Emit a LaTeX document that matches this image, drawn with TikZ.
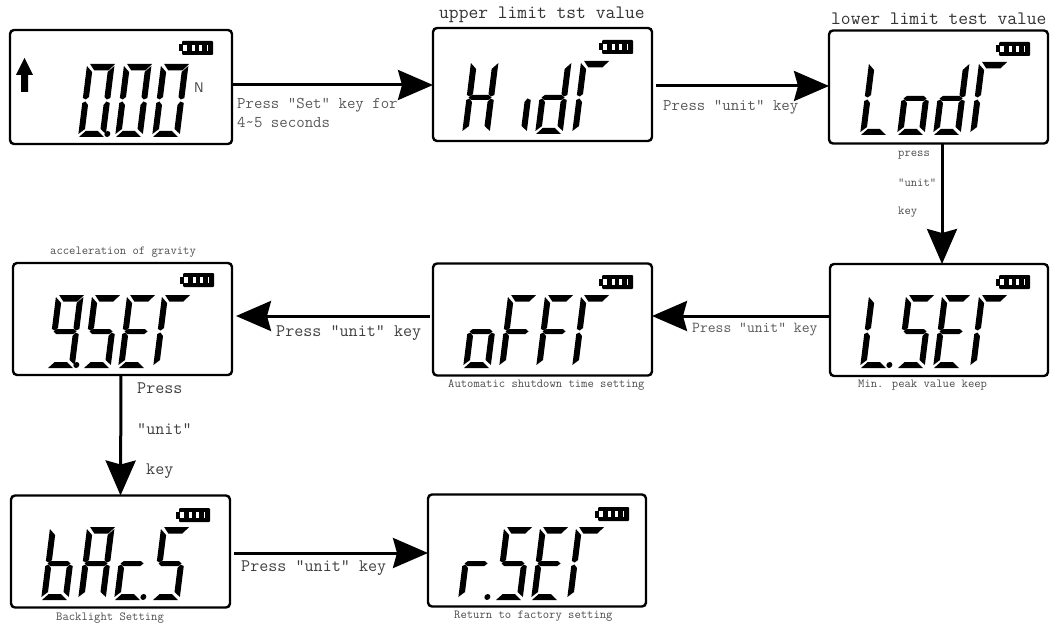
\documentclass[tikz,border=0pt]{standalone}
\usetikzlibrary{arrows.meta}
\tikzset{
	lcd/.style={draw, line width=2.4pt, rounded corners=4pt, outer sep=0pt, inner sep=0pt, minimum width=218pt, minimum height=112pt},
	flow/.style={line width=3pt, -{Stealth[length=35pt,width=30pt,inset=4pt]}},
	big/.style={font=\fontsize{19}{19}\selectfont\ttfamily, text=black!80, inner sep=0pt, anchor=west},
	mid/.style={font=\fontsize{17.6}{21}\selectfont\ttfamily, text=black!75, inner sep=0pt, anchor=west},
	midb/.style={font=\fontsize{16.4}{19}\selectfont\ttfamily, text=black!65, inner sep=0pt, anchor=west},
	small/.style={font=\fontsize{12.3}{12.3}\selectfont\ttfamily, text=black!70, inner sep=0pt, anchor=west}
}
% seven segments of a display character
\def\sega{\fill (3,73) -- (28,73) -- (22,66.5) -- (8,66.5) -- cycle;}
\def\segb{\fill (27.5,71) -- (27.5,39) -- (24,37.5) -- (21.5,40) -- (21.5,65) -- cycle;}
\def\segc{\fill (27.5,34) -- (27.5,3) -- (21.5,8) -- (21.5,32) -- (24,35.5) -- cycle;}
\def\segd{\fill (1,0) -- (26,0) -- (19,6) -- (7,6) -- cycle;}
\def\sege{\fill (0,3) -- (0,34) -- (3,35.5) -- (6,32) -- (6,8) -- cycle;}
\def\segf{\fill (0,39) -- (0,71) -- (6,65) -- (6,40) -- (3,37.5) -- cycle;}
\def\segg{\fill (2,36.5) -- (5,39) -- (22,39) -- (25,36.5) -- (22,34) -- (5,34) -- cycle;}
\def\segp{\fill (29,3) circle (3);}
\newcommand{\lcdchar}[3]{
	\begin{scope}[shift={(#1,#2)}, x={(1pt,0pt)}, y={(0.125pt,1pt)}]
		\foreach \s in {#3} {\csname seg\s\endcsname}
	\end{scope}
}
\newcommand{\battery}[2]{
	\begin{scope}[shift={(#1,#2)}]
		\fill[rounded corners=1pt] (3,0) rectangle (34,14);
		\fill (0,3.5) rectangle (4,10.5);
		\fill[white] (4,4) rectangle (29,10);
		\fill (8,4) rectangle (12.5,10);
		\fill (15.5,4) rectangle (20,10);
		\fill (23,4) rectangle (27.5,10);
	\end{scope}
}
\begin{document}
\begin{tikzpicture}[x=1pt, y=-1pt]
	\useasboundingbox (0,0) rectangle (1056,628);
	% displays
	\node[lcd, minimum width=222pt, minimum height=114pt] (zero) at (121,87) {};
	\node[lcd, minimum width=219pt, minimum height=113pt] (hidr) at (542.5,84.5) {};
	\node[lcd, minimum width=219pt, minimum height=113pt] (lodr) at (938.5,87) {};
	\node[lcd] (lset) at (939,320) {};
	\node[lcd, minimum width=219pt] (off) at (542.5,319.5) {};
	\node[lcd, minimum width=219pt] (gset) at (122.5,319) {};
	\node[lcd, minimum width=219pt] (bacs) at (120.5,551.5) {};
	\node[lcd] (rset) at (537,550.5) {};
	% first display
	\lcdchar{78}{137}{a,b,c,d,e,f,p}
	\lcdchar{115}{137}{a,b,c,d,e,f}
	\lcdchar{152}{137}{a,b,c,d,e,f}
	\battery{179}{41}
	\fill (21,92) -- (21,75) -- (16,75) -- (24.5,58) -- (33,75) -- (28,75) -- (28,92) -- cycle;
	\node[inner sep=0pt, font=\sffamily\fontsize{14}{14}\selectfont, text=black!75] (unitn) at (199,88) {N};
	% upper limit
	\lcdchar{462}{134}{b,c,e,f,g}
	\lcdchar{499}{134}{c}
	\lcdchar{535}{134}{b,c,d,e,g}
	\lcdchar{572}{134}{a,e,f}
	\battery{599}{40}
	% lower limit
	\lcdchar{860}{135}{d,e,f}
	\lcdchar{897}{135}{c,d,e,g}
	\lcdchar{933}{135}{b,c,d,e,g}
	\lcdchar{970}{135}{a,e,f}
	\battery{996}{42}
	% min peak
	\lcdchar{860}{368}{d,e,f,p}
	\lcdchar{897}{368}{a,c,d,f,g}
	\lcdchar{933}{368}{a,d,e,f,g}
	\lcdchar{970}{368}{a,e,f}
	\battery{996}{275}
	% shutdown
	\lcdchar{463}{368}{c,d,e,g}
	\lcdchar{499}{368}{a,e,f,g}
	\lcdchar{536}{368}{a,e,f,g}
	\lcdchar{572}{368}{a,e,f}
	\battery{599}{275}
	% gravity
	\lcdchar{47}{368}{a,b,c,d,f,g,p}
	\lcdchar{83}{368}{a,c,d,f,g}
	\lcdchar{118}{368}{a,d,e,f,g}
	\lcdchar{153}{368}{a,e,f}
	\battery{180}{273}
	% backlight
	\lcdchar{41}{600}{c,d,e,f,g}
	\lcdchar{78}{600}{a,b,c,e,f,g}
	\lcdchar{114}{600}{d,e,g,p}
	\lcdchar{152}{600}{a,c,d,f,g}
	\battery{176}{508}
	% factory
	\lcdchar{458}{600}{e,g,p}
	\lcdchar{495}{600}{a,c,d,f,g}
	\lcdchar{531}{600}{a,d,e,f,g}
	\lcdchar{567}{600}{a,e,f}
	\battery{595}{507}
	% connectors
	\draw[flow] ([yshift=2pt]zero.east) -- ([yshift=-0.5pt]hidr.west);
	\draw[flow] ([xshift=4pt,yshift=-1.5pt]hidr.east) -- ([yshift=1pt]lodr.west);
	\draw[flow] ([xshift=3.5pt]lodr.south) -- ([xshift=3pt]lset.north);
	\draw[flow] ([yshift=4pt]lset.west) -- ([yshift=3.5pt]off.east);
	\draw[flow] ([xshift=-3pt,yshift=3.5pt]off.west) -- ([xshift=4pt,yshift=3pt]gset.east);
	\draw[flow] ([xshift=-1.5pt]gset.south) -- (bacs.north);
	\draw[flow] ([xshift=4pt,yshift=-1.5pt]bacs.east) -- ([yshift=-2.5pt]rset.west);
	% labels
	\node[big] (uplabel) at (439,15) {upper limit tst value};
	\node[big] (lowlabel) at (831,19) {lower limit test value};
	\node[midb, align=left] (setlabel) at (237,112.5) {Press "Set" key for\\4\textasciitilde5 seconds};
	\node[midb] (ulabela) at (663,107) {Press "unit" key};
	\node[small] (ulabelb) at (898,155) {press};
	\node[small] (ulabelc) at (898,183) {"unit"};
	\node[small] (ulabeld) at (898,212) {key};
	\node[midb, font=\fontsize{15.2}{15.2}\selectfont\ttfamily] (ulabele) at (692,330) {Press "unit" key};
	\node[mid] (ulabelf) at (276,333) {Press "unit" key};
	\node[small] (gravlabel) at (50,252) {acceleration of gravity};
	\node[small] (autolabel) at (448,385) {Automatic shutdown time setting};
	\node[small] (minlabel) at (858,385) {Min. peak value keep};
	\node[mid] (ulabelg) at (137,388) {Press};
	\node[mid] (ulabelh) at (137,429) {"unit"};
	\node[mid] (ulabeli) at (146,471) {key};
	\node[mid] (ulabelj) at (241,568) {Press "unit" key};
	\node[small] (backlabel) at (56,618) {Backlight Setting};
	\node[small] (retlabel) at (454,616) {Return to factory setting};
\end{tikzpicture}
\end{document}
